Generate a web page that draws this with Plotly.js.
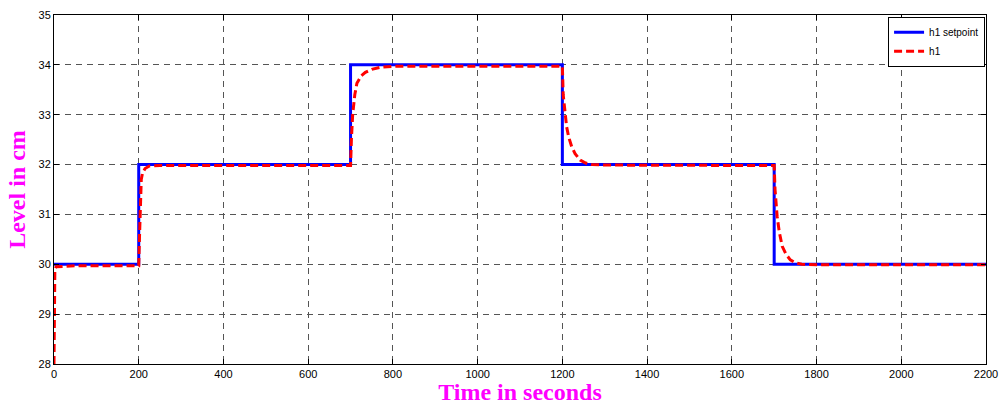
<!DOCTYPE html>
<html>
<head>
<meta charset="utf-8">
<script src="https://cdn.plot.ly/plotly-3.0.1.min.js"></script>
<style>html,body{margin:0;padding:0;background:#fff;}#chart{width:1000px;height:405px;}</style>
</head>
<body>
<div id="chart"></div>
<script>
// Setpoint (step changes)
const setpointTime = [0, 200, 700, 1200, 1700, 2200];
const setpointLevel = [30, 32, 34, 32, 30, 30];

const h1Time = [0, 2, 5, 50, 199,
  200, 202, 204, 206, 209, 215, 225, 250, 300, 699,
  700, 702, 705, 710, 715, 725, 735, 750, 770, 800, 1199,
  1200, 1202, 1205, 1210, 1215, 1222, 1230, 1242, 1255, 1270, 1300, 1699,
  1700, 1702, 1707, 1712, 1719, 1728, 1738, 1750, 1765, 1800, 2200];
const h1Level = [28, 29.9, 29.95, 29.97, 29.97,
  29.97, 30.6, 31.4, 31.7, 31.83, 31.92, 31.97, 31.98, 31.98, 31.98,
  31.98, 32.5, 33.0, 33.4, 33.63, 33.78, 33.85, 33.91, 33.95, 33.97, 33.97,
  33.97, 33.4, 33.1, 32.76, 32.55, 32.36, 32.22, 32.09, 32.03, 32.0, 31.99, 31.99,
  31.98, 31.5, 30.96, 30.65, 30.36, 30.2, 30.09, 30.03, 30.0, 29.99, 29.99];

const xTicks = [0, 200, 400, 600, 800, 1000, 1200, 1400, 1600, 1800, 2000, 2200];
const yTicks = [28, 29, 30, 31, 32, 33, 34, 35];

const traces = [
  {x: setpointTime, y: setpointLevel, name: 'h1 setpoint', mode: 'lines',
   line: {color: '#0000ff', width: 3, shape: 'hv'}},
  {x: h1Time, y: h1Level, name: 'h1', mode: 'lines',
   line: {color: '#ff0000', width: 3, dash: '8px,4px'}}
];

const axisCommon = {
  showline: true, mirror: 'ticks', linecolor: '#000', linewidth: 1,
  ticks: 'inside', ticklen: 5, tickcolor: '#000',
  showgrid: true, gridcolor: '#555', gridwidth: 1, griddash: '6px,5px',
  zeroline: false,
  tickfont: {family: 'Liberation Sans, Arial, sans-serif', size: 11, color: '#000'}
};

const layout = {
  width: 1000, height: 405,
  margin: {l: 54, r: 14, t: 15, b: 41},
  paper_bgcolor: '#fff', plot_bgcolor: '#fff',
  showlegend: true,
  legend: {x: 0.999, y: 0.995, xanchor: 'right', yanchor: 'top',
    bgcolor: '#fff', bordercolor: '#000', borderwidth: 1,
    font: {family: 'Liberation Sans, Arial, sans-serif', size: 10, color: '#000'},
    tracegroupgap: 0, itemwidth: 30},
  xaxis: Object.assign({}, axisCommon, {
    range: [0, 2200], tickvals: xTicks, ticktext: xTicks.map(String),
    title: {text: 'Time in seconds', standoff: 5,
      font: {family: 'Liberation Serif, Times New Roman, serif', size: 24, color: '#ff00ff', weight: 'bold'}}
  }),
  yaxis: Object.assign({}, axisCommon, {
    range: [28, 35], tickvals: yTicks, ticktext: yTicks.map(String),
    title: {text: 'Level in cm', standoff: 6,
      font: {family: 'Liberation Serif, Times New Roman, serif', size: 24, color: '#ff00ff', weight: 'bold'}}
  })
};

Plotly.newPlot('chart', traces, layout, {displayModeBar: false, staticPlot: true});
</script>
</body>
</html>
